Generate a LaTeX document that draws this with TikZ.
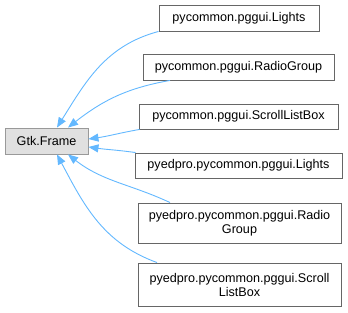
\documentclass[tikz,border=0pt]{standalone}
\usepackage{fontspec}
\setmainfont{Liberation Sans}
\usepackage{xcolor}
\usepackage{tikz}
\usetikzlibrary{shapes,arrows.meta,positioning}

\definecolor{edgeblue}{HTML}{63B8FF}
\definecolor{boxline}{HTML}{666666}
\definecolor{basefill}{HTML}{E0E0E0}
\definecolor{baseline}{HTML}{999999}

\tikzset{
  cls/.style={rectangle, draw=boxline, fill=white, line width=0.9pt,
    minimum height=26pt, inner sep=2pt, align=center,
    font=\fontsize{12.6}{14}\selectfont},
  inherit/.style={draw=edgeblue, line width=0.9pt,
    -{Triangle[length=10pt,width=8pt,fill=edgeblue]}}
}

\begin{document}
\begin{tikzpicture}[x=1pt, y=1pt]
    \useasboundingbox (0,0) rectangle (348,313);
    % Nodes
    \node [cls, draw=baseline, fill=basefill, minimum width=83pt] (frame) at (46.5,172) {Gtk.Frame};
    \node [cls, minimum width=160pt] (lights) at (239,295) {pycommon.pggui.Lights};
    \node [cls, minimum width=191pt] (radio) at (238.5,246) {pycommon.pggui.RadioGroup};
    \node [cls, minimum width=199pt, minimum height=25pt] (scroll) at (238.5,196.5) {pycommon.pggui.ScrollListBox};
    \node [cls, minimum width=207pt, minimum height=25pt] (pylights) at (238.5,147.5) {pyedpro.pycommon.pggui.Lights};
    \node [cls, minimum width=203pt, minimum height=40pt] (pyradio) at (239.5,90) {pyedpro.pycommon.pggui.Radio\\Group};
    \node [cls, minimum width=203pt, minimum height=43pt] (pyscroll) at (239.5,28.5) {pyedpro.pycommon.pggui.Scroll\\ListBox};

    % Path
    \draw [inherit] (lights.south west) to[out=195, in=58] ([xshift=10.5pt]frame.north);
    \draw [inherit] ([xshift=-68.5pt]radio.south) to[out=190, in=38] ([xshift=21.5pt]frame.north);
    \draw [inherit] ([xshift=1pt]scroll.south west) to[out=190, in=8] ([yshift=2pt]frame.east);
    \draw [inherit] ([xshift=1pt]pylights.north west) to[out=172, in=-8] ([yshift=-6pt]frame.east);
    \draw [inherit] ([xshift=-69.5pt]pyradio.north) to[out=155, in=-38] ([xshift=21.5pt]frame.south);
    \draw [inherit] ([xshift=-82.5pt]pyscroll.north) to[out=160, in=-62] ([xshift=10.5pt]frame.south);
\end{tikzpicture}
\end{document}
